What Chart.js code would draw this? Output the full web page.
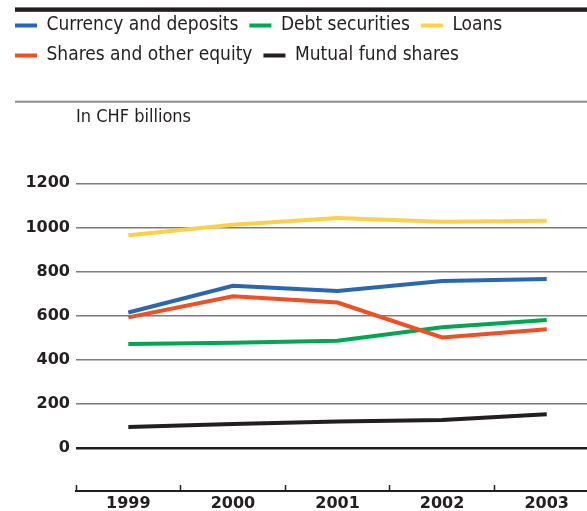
<!DOCTYPE html>
<html>
<head>
<meta charset="utf-8">
<script src="https://cdn.jsdelivr.net/npm/chart.js@4.4.1/dist/chart.umd.min.js"></script>
<style>
  html, body { margin: 0; padding: 0; background: #fff; }
  canvas { display: block; }
</style>
</head>
<body>
<canvas id="chart" width="587" height="511"></canvas>
<script>
// ---------- DATA ----------
const years = [1999, 2000, 2001, 2002, 2003];
const currency = [614, 735, 712, 757, 766];
const debt = [471, 477, 486, 547, 580];
const loans = [964, 1012, 1043, 1026, 1030];
const shares = [592, 688, 659, 501, 538];
const mutual = [95, 108, 120, 127, 153];
const yTicks = [0, 200, 400, 600, 800, 1000, 1200];
const unitLabel = "In CHF billions";

const INK = "#231f20";
const TEXT_FONT = '"DejaVu Sans Condensed", "Liberation Sans Narrow", "DejaVu Sans", sans-serif';
const TICK_FONT = '"DejaVu Sans", sans-serif';

// x tick marks sit between the years, labels on the years
const xTickVals = [];
years.forEach(y => { xTickVals.push(y - 0.5); xTickVals.push(y); });

const series = [
  { label: "Currency and deposits", data: currency, color: "#2a66b1", order: 1 },
  { label: "Debt securities", data: debt, color: "#00a651", order: 2 },
  { label: "Loans", data: loans, color: "#fdd04a", order: 1 },
  { label: "Shares and other equity", data: shares, color: "#f04e23", order: 0 },
  { label: "Mutual fund shares", data: mutual, color: INK, order: 1 }
];

// ---------- DECOR (rules + unit label) ----------
const decor = {
  id: "decor",
  afterDraw(chart) {
    const ctx = chart.ctx;
    ctx.save();
    ctx.fillStyle = INK;
    ctx.fillRect(15, 7.4, 572, 4.4);
    ctx.fillStyle = "#8c8c8c";
    ctx.fillRect(15, 100.7, 572, 2);
    ctx.fillStyle = INK;
    ctx.font = "18px " + TEXT_FONT;
    ctx.textBaseline = "middle";
    ctx.fillText(unitLabel, 76, 117);
    ctx.restore();
  }
};

new Chart(document.getElementById("chart").getContext("2d"), {
  type: "line",
  data: {
    datasets: series.map(s => ({
      label: s.label,
      data: s.data.map((v, i) => ({ x: years[i], y: v })),
      borderColor: s.color,
      backgroundColor: s.color,
      borderWidth: 4,
      pointRadius: 0,
      tension: 0,
      order: s.order
    }))
  },
  options: {
    responsive: false,
    animation: false,
    devicePixelRatio: 1,
    layout: { padding: { top: 5, left: 4, right: 0, bottom: 0 } },
    plugins: {
      tooltip: { enabled: false },
      legend: {
        position: "top",
        align: "start",
        labels: {
          boxWidth: 22,
          boxHeight: 4,
          padding: 11,
          color: INK,
          font: { family: TEXT_FONT, size: 19 },
          sort: (a, b) => a.datasetIndex - b.datasetIndex,
          generateLabels: chart => Chart.defaults.plugins.legend.labels.generateLabels(chart)
            .map(l => ({ ...l, lineWidth: 0, fillStyle: chart.data.datasets[l.datasetIndex].borderColor }))
        }
      }
    },
    scales: {
      x: {
        type: "linear",
        min: 1998.5,
        max: 2003.385,
        afterBuildTicks: s => { s.ticks = xTickVals.map(v => ({ value: v })); },
        afterFit: s => { s.height = 20; },
        border: { display: true, color: INK, width: 2 },
        grid: {
          drawOnChartArea: false,
          drawTicks: true,
          tickLength: -6,
          tickWidth: 1.5,
          tickColor: c => (c.tick && Number.isInteger(c.tick.value)) ? "rgba(0,0,0,0)" : INK
        },
        ticks: {
          autoSkip: false,
          maxRotation: 0,
          padding: 9,
          color: INK,
          font: { family: TICK_FONT, size: 16, weight: "bold" },
          callback: v => Number.isInteger(v) ? String(v) : ""
        }
      },
      y: {
        min: -195.45,
        max: 1690.9,
        afterBuildTicks: s => { s.ticks = yTicks.map(v => ({ value: v })); },
        afterFit: s => { s.width = 72; },
        border: { display: false },
        grid: {
          drawTicks: false,
          color: c => c.tick && c.tick.value === 0 ? INK : "#7d7d7d",
          lineWidth: c => c.tick && c.tick.value === 0 ? 2.5 : 1.5
        },
        ticks: {
          padding: 6,
          color: INK,
          font: { family: TICK_FONT, size: 16, weight: "bold" },
          callback: v => String(v)
        }
      }
    }
  },
  plugins: [decor]
});
</script>
</body>
</html>
